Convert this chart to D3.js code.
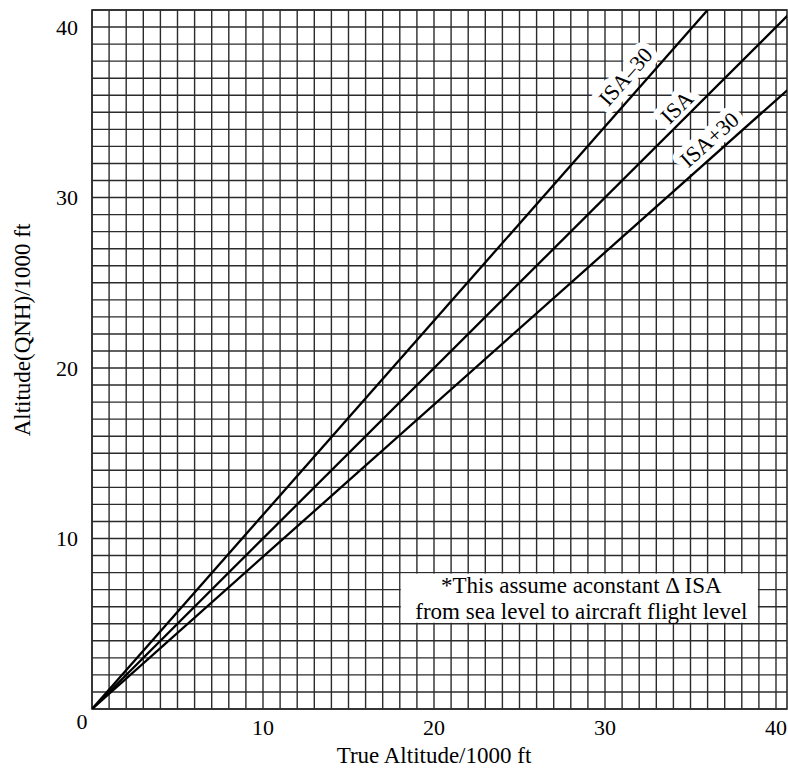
<!DOCTYPE html>
<html>
<head>
<meta charset="utf-8">
<script src="https://cdn.jsdelivr.net/npm/d3@7"></script>
<style>
  body { margin: 0; background: #fff; }
  svg { display: block; }
  text { font-family: "Liberation Serif", "Times New Roman", serif; fill: #000; }
</style>
</head>
<body>
<div id="chart"></div>
<script>
// ── data (thousands of ft) ─────────────────────────────────────────
var seriesNames = ['ISA\u201330', 'ISA', 'ISA+30'];
var isaMinus30 = [[0, 0], [36, 41]];
var isaStd = [[0, 0], [41, 41]];
var isaPlus30 = [[0, 0], [41, 36.6]];
var xTickLabels = [10, 20, 30, 40];
var yTickLabels = [10, 20, 30, 40];
var noteLines = ['*This assume aconstant \u0394 ISA', 'from sea level to aircraft flight level'];

// ── layout ─────────────────────────────────────────────────────────
var W = 788, H = 770;
var plotLeft = 92, plotRight = 787, plotTop = 10, plotBottom = 709;
var pxPerUnit = 17.1;

var x = d3.scaleLinear().domain([0, (plotRight - plotLeft) / pxPerUnit]).range([plotLeft, plotRight]);
var y = d3.scaleLinear().domain([0, 41]).range([plotBottom, plotTop]);

var svg = d3.select('#chart').append('svg')
  .attr('width', W).attr('height', H);

svg.append('clipPath').attr('id', 'plot-clip')
  .append('rect').attr('x', plotLeft).attr('y', plotTop)
  .attr('width', plotRight - plotLeft).attr('height', plotBottom - plotTop);

// grid, one line per 1000 ft
var gridColor = '#2b2b2b';
var grid = svg.append('g').attr('stroke', gridColor).attr('stroke-width', 1.4);
grid.selectAll('line.v').data(d3.range(0, Math.floor(x.domain()[1]) + 1)).join('line')
  .attr('class', 'v')
  .attr('x1', function(d) { return x(d); }).attr('x2', function(d) { return x(d); })
  .attr('y1', plotTop).attr('y2', plotBottom);
grid.selectAll('line.h').data(d3.range(0, 42)).join('line')
  .attr('class', 'h')
  .attr('x1', plotLeft).attr('x2', plotRight)
  .attr('y1', function(d) { return y(d); }).attr('y2', function(d) { return y(d); });
svg.append('rect')
  .attr('x', plotLeft).attr('y', plotTop)
  .attr('width', plotRight - plotLeft).attr('height', plotBottom - plotTop)
  .attr('fill', 'none').attr('stroke', gridColor).attr('stroke-width', 1.6);

// note box clears the grid
var noteBox = { x0: 18, x1: 39, y0: 5, y1: 8 };
svg.append('rect')
  .attr('x', x(noteBox.x0) + 1).attr('y', y(noteBox.y1) + 1)
  .attr('width', x(noteBox.x1) - x(noteBox.x0) - 2)
  .attr('height', y(noteBox.y0) - y(noteBox.y1) - 2)
  .attr('fill', '#fff');
var noteCx = (x(noteBox.x0) + x(noteBox.x1)) / 2 + 2;
svg.selectAll('text.note').data(noteLines).join('text')
  .attr('class', 'note')
  .attr('x', noteCx)
  .attr('y', function(d, i) { return 593 + i * 26; })
  .attr('text-anchor', 'middle')
  .style('font-size', '23px')
  .text(function(d) { return d; });

// series
var series = [isaMinus30, isaStd, isaPlus30];
var labelAt = [[31.2, 37.1], [34.2, 35.3], [36.1, 33.4]];

function pixelAngle(pts) {
  var a = pts[0], b = pts[pts.length - 1];
  return Math.atan2(y(b[1]) - y(a[1]), x(b[0]) - x(a[0])) * 180 / Math.PI;
}

var labels = svg.append('g');
series.forEach(function(pts, i) {
  var px = x(labelAt[i][0]), py = y(labelAt[i][1]);
  var t = labels.append('text')
    .attr('transform', 'translate(' + px + ',' + py + ') rotate(' + pixelAngle(pts) + ')')
    .attr('text-anchor', 'middle')
    .attr('dominant-baseline', 'central')
    .style('font-size', '22px')
    .text(seriesNames[i]);
  // white knock-out so the grid stops around the label
  t.clone(true).lower()
    .style('fill', '#fff').style('stroke', '#fff')
    .style('stroke-width', 13).style('stroke-linejoin', 'round');
});

var line = d3.line().x(function(d) { return x(d[0]); }).y(function(d) { return y(d[1]); });
svg.append('g').attr('clip-path', 'url(#plot-clip)')
  .selectAll('path').data(series).join('path')
  .attr('d', line)
  .attr('fill', 'none').attr('stroke', '#000').attr('stroke-width', 2.3);

// tick labels
svg.selectAll('text.xt').data(xTickLabels).join('text')
  .attr('class', 'xt')
  .attr('x', function(d) { return x(d); }).attr('y', 735)
  .attr('text-anchor', 'middle')
  .style('font-size', '22px')
  .text(function(d) { return d; });
svg.selectAll('text.yt').data(yTickLabels).join('text')
  .attr('class', 'yt')
  .attr('x', 78).attr('y', function(d) { return y(d); })
  .attr('text-anchor', 'end').attr('dominant-baseline', 'central')
  .style('font-size', '22px')
  .text(function(d) { return d; });
svg.append('text')
  .attr('x', 82).attr('y', 729)
  .attr('text-anchor', 'middle')
  .style('font-size', '22px')
  .text('0');

// axis titles
svg.append('text')
  .attr('x', 434).attr('y', 763)
  .attr('text-anchor', 'middle')
  .style('font-size', '23px')
  .text('True Altitude/1000 ft');
svg.append('text')
  .attr('transform', 'translate(30,330) rotate(-90)')
  .attr('text-anchor', 'middle')
  .style('font-size', '23px')
  .text('Altitude(QNH)/1000 ft');
</script>
</body>
</html>
